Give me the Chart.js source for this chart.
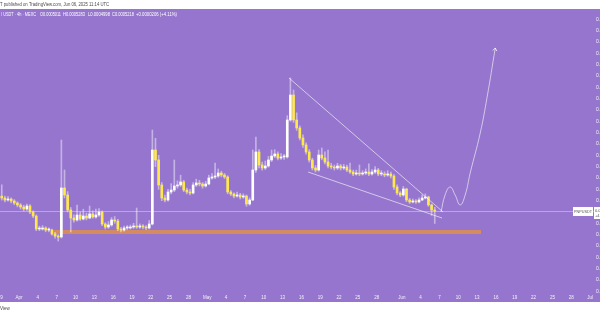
<!DOCTYPE html>
<html><head><meta charset="utf-8">
<script src="https://cdn.jsdelivr.net/npm/chart.js@4"></script>
<style>html,body{margin:0;padding:0;background:#fff;overflow:hidden;width:600px;height:315px}canvas{display:block}</style>
</head><body>
<canvas id="c" width="600" height="315"></canvas>
<script>
// Prices are in units of 1e-7 USDT. Time is in days from Apr 1 2025 00:00 UTC.
const PRICE_UNIT = 1e-7;
const firstCandleDay = -3;      // Mar 29
const candleStepDays = 0.5;     // 12h candles
const firstOpen = 5480;
const closes = [5447,5412,5429,5394,5359,5324,5288,5253,5306,5200,
5129,4900,4900,4918,4882,4882,4812,4776,4759,5624,
5500,5235,5094,5059,5147,5076,5129,5094,5165,5112,
5147,5200,4988,4935,4971,5059,5041,4900,4882,4918,
4918,4935,4953,4935,4953,4935,4918,4988,6294,6118,
5677,5447,5412,5553,5588,5659,5677,5730,5588,5553,
5535,5677,5712,5694,5659,5694,5800,5818,5835,5888,
5853,5818,5553,5518,5482,5500,5465,5482,5341,5412,
5941,6259,6030,5977,6012,6118,6188,6224,6153,6171,
6171,6824,7265,6824,6683,6506,6383,6259,6118,5977,
5941,6206,6153,6083,6012,5994,5977,6012,5977,5994,
5941,5906,5871,5888,5871,5888,5906,5871,5906,5941,
5871,5871,5853,5871,5835,5641,5535,5500,5606,5412,
5377,5394,5377,5412,5447,5465,5324,5235,5218];
const highs = [5680,5480,5470,5450,5420,5380,5350,5320,5340,5330,
5220,5150,4950,4960,4940,4920,4900,4840,4800,6471,
5941,5560,5280,5150,5324,5200,5250,5180,5306,5220,
5250,5260,5220,5010,5030,5100,5120,5070,4930,4950,
4960,4970,5000,5270,4990,4980,4960,5050,6647,6500,
6200,5720,5500,5600,5700,6118,5750,5850,5760,5620,
5600,5720,5780,5760,5720,5740,5850,5880,6065,5960,
5920,5880,5840,5580,5540,5550,5530,5520,5500,5450,
6294,6524,6300,6080,6100,6180,6294,6300,6260,6230,
6220,6900,7565,7353,6950,6720,6560,6420,6300,6150,
6020,6294,6330,6260,6294,6060,6030,6060,6040,6040,
6030,6065,5940,5940,6030,5930,5960,6050,5950,6000,
5970,5930,5910,5930,5906,5860,5680,5560,5650,5620,
5440,5430,5420,5450,5500,5520,5480,5340,5283];
const lows = [5410,5380,5390,5360,5330,5290,5250,5220,5230,5170,
5100,4870,4870,4880,4850,4850,4790,4740,4688,4740,
5450,5200,4847,5020,5040,5050,5060,5060,5080,5090,
5090,5120,4960,4900,4910,4950,5000,4870,4847,4860,
4890,4900,4910,4910,4910,4900,4890,4900,4970,6000,
5600,5400,5380,5390,5520,5560,5620,5650,5560,5520,
5500,5520,5650,5660,5620,5640,5680,5780,5790,5810,
5820,5790,5520,5490,5450,5460,5430,5440,5300,5320,
5400,5900,5980,5940,5950,5990,6090,6160,6120,6130,
6130,6150,6800,6780,6640,6470,6340,6220,6080,5940,
5906,5920,6120,6050,5980,5960,5940,5950,5940,5950,
5910,5880,5840,5850,5840,5850,5860,5840,5850,5880,
5840,5840,5820,5830,5800,5600,5500,5470,5480,5380,
5350,5360,5350,5360,5400,5430,5300,5140,4998];

const dateTickDays = [-3,0,3,6,9,12,15,18,21,24,27,30,33,36,39,42,45,48,51,54,57,61,64,67,70,73,76,79,82,85,88,91];
const dateTickLabels = ['29','Apr','4','7','10','13','16','19','22','25','28','May','4','7','10','13','16','19','22','25','28','Jun','4','7','10','13','16','19','22','25','28','Jul'];
const priceTicks = [3800,4000,4200,4400,4600,4800,5000,5200,5400,5600,5800,6000,6200,6400,6600,6800,7000,7200,7400,7600,7800,8000,8200,8400,8600];

// drawings
const upperTrendDays = [43.03, 67.57], upperTrendPrices = [7565, 5200];
const lowerTrendDays = [46.06, 67.41], lowerTrendPrices = [5906, 5094];
const projectionDays = [67.25, 67.9, 68.7, 69.5, 70.3, 71.1, 71.9, 73.5, 74.6, 75.9];
const projectionPrices = [5200, 5500, 5641, 5500, 5324, 5500, 5888, 6594, 7230, 8095];
const supportDays = [5.58, 73.63], supportPrices = [4847, 4847];
const lastPrice = 5218;
const symbol = 'PNPUSDT';
const headerText = ['/ USDT · 4h · MEXC', 'O0.0005011', 'H0.0005283', 'L0.0004998', 'C0.0005218', '+0.0000206 (+4.11%)'];

// build candle datasets
const opens = closes.map((c, i) => i === 0 ? firstOpen : closes[i - 1]);
const days = closes.map((c, i) => firstCandleDay + i * candleStepDays + candleStepDays / 2);
const wickData = days.map((d, i) => ({x: d, y: [lows[i], highs[i]]}));
const bodyData = days.map((d, i) => ({x: d, y: [opens[i], closes[i]]}));
const bodyColors = closes.map((c, i) => c >= opens[i] ? '#ffffff' : '#ffe94a');
const pts = (xs, ys) => xs.map((x, i) => ({x, y: ys[i]}));

const FONT = '"Liberation Sans", Arial, sans-serif';

const deco = {
  id: 'deco',
  beforeDraw(chart) {
    const ctx = chart.ctx, a = chart.chartArea;
    ctx.save();
    ctx.fillStyle = '#ffffff'; ctx.fillRect(0, 0, 600, 315);
    ctx.fillStyle = '#9575cd'; ctx.fillRect(0, 9, 600, 293);
    const y = Math.round(chart.scales.y.getPixelForValue(lastPrice)) + 0.5;
    ctx.strokeStyle = 'rgba(255,255,255,0.35)'; ctx.lineWidth = 1;
    ctx.beginPath(); ctx.moveTo(a.left, y); ctx.lineTo(a.right, y); ctx.stroke();
    ctx.restore();
  },
  afterDatasetsDraw(chart) {
    // arrow head on projection curve
    const meta = chart.getDatasetMeta(4);
    const p = meta.data[meta.data.length - 1], q = meta.data[meta.data.length - 2];
    const ang = Math.atan2(p.y - q.y, p.x - q.x);
    const ctx = chart.ctx; ctx.save();
    ctx.strokeStyle = 'rgba(255,255,255,0.75)'; ctx.lineWidth = 1;
    ctx.beginPath();
    ctx.moveTo(p.x - 3.5 * Math.cos(ang - 0.6), p.y - 3.5 * Math.sin(ang - 0.6));
    ctx.lineTo(p.x, p.y);
    ctx.lineTo(p.x - 3.5 * Math.cos(ang + 0.6), p.y - 3.5 * Math.sin(ang + 0.6));
    ctx.stroke(); ctx.restore();
  },
  afterDraw(chart) {
    const ctx = chart.ctx; ctx.save();
    // published line
    ctx.font = '4.5px ' + FONT; ctx.textBaseline = 'middle'; ctx.textAlign = 'left';
    ctx.fillStyle = '#4a4a4a';
    const pub = symbol + ' published on TradingView.com, Jun 06, 2025 11:14 UTC';
    const off = ctx.measureText('PNPUSD').width;
    const full = ctx.measureText(pub).width;
    const k = Math.min(1, (108 + off) / full);
    ctx.fillText(pub, -off * k, 4.8, full * k);
    // footer
    ctx.fillText('TradingView', -ctx.measureText('Trading').width, 309);
    // header
    ctx.fillStyle = '#ffffff';
    const hx = [1, 40, 63, 88, 112, 136];
    const hw = [35, 21, 22, 22, 22, 41];
    headerText.forEach((t, i) => ctx.fillText(t, hx[i], 14.8, hw[i]));
    // price label
    const y = chart.scales.y.getPixelForValue(lastPrice);
    ctx.fillStyle = '#ffffff';
    ctx.fillRect(573, y - 4, 20, 9);
    ctx.fillRect(594, y - 4, 6, 12);
    ctx.fillStyle = '#555';
    ctx.font = '4px ' + FONT; ctx.textAlign = 'center';
    ctx.fillText(symbol, 583, y + 0.5, 18);
    ctx.textAlign = 'left';
    ctx.fillText((lastPrice * PRICE_UNIT).toFixed(7), 595, y);
    ctx.fillText('+4.11%', 595, y + 5);
    ctx.restore();
  }
};

new Chart(document.getElementById('c'), {
  type: 'bar',
  data: {
    datasets: [
      {type: 'line', data: pts(supportDays, supportPrices), borderColor: '#d58b62', borderWidth: 4, borderCapStyle: 'butt', pointRadius: 0, order: 9},
      {type: 'bar', data: wickData, backgroundColor: 'rgba(255,255,255,0.45)', barThickness: 1, grouped: false, order: 8},
      {type: 'bar', data: bodyData, backgroundColor: bodyColors, barThickness: 2, minBarLength: 1, grouped: false, order: 7},
      {type: 'line', data: pts(upperTrendDays, upperTrendPrices), borderColor: 'rgba(255,255,255,0.6)', borderWidth: 1, pointRadius: 0, order: 3},
      {type: 'line', data: pts(projectionDays, projectionPrices), borderColor: 'rgba(255,255,255,0.6)', borderWidth: 1, pointRadius: 0, tension: 0.45, order: 2},
      {type: 'line', data: pts(lowerTrendDays, lowerTrendPrices), borderColor: 'rgba(255,255,255,0.6)', borderWidth: 1, pointRadius: 0, order: 1}
    ]
  },
  options: {
    responsive: false, animation: false, devicePixelRatio: 1,
    layout: {padding: {top: 18, left: 0, right: 0, bottom: 0}},
    plugins: {legend: {display: false}, tooltip: {enabled: false}},
    scales: {
      x: {
        type: 'linear', offset: false, min: -3.028, max: 91.63,
        grid: {display: false, drawTicks: false}, border: {display: false},
        afterBuildTicks: s => { s.ticks = dateTickDays.map(v => ({value: v})); },
        afterFit: s => { s.height = 23; s.paddingLeft = 0; s.paddingRight = 0; },
        ticks: {autoSkip: false, maxRotation: 0, padding: 3, color: 'rgba(255,255,255,0.9)', font: {size: 4.5, family: FONT},
          callback: (v, i) => dateTickLabels[i]}
      },
      y: {
        type: 'linear', position: 'right', min: 3788, max: 8624,
        grid: {display: false, drawTicks: false}, border: {display: false},
        afterBuildTicks: s => { s.ticks = priceTicks.map(v => ({value: v})); },
        afterFit: s => { s.width = 6; s.paddingTop = 0; s.paddingBottom = 0; },
        ticks: {padding: 2, color: 'rgba(255,255,255,0.9)', font: {size: 5, family: FONT},
          callback: v => (v * PRICE_UNIT).toFixed(7)}
      }
    }
  },
  plugins: [deco]
});
</script>
</body></html>
